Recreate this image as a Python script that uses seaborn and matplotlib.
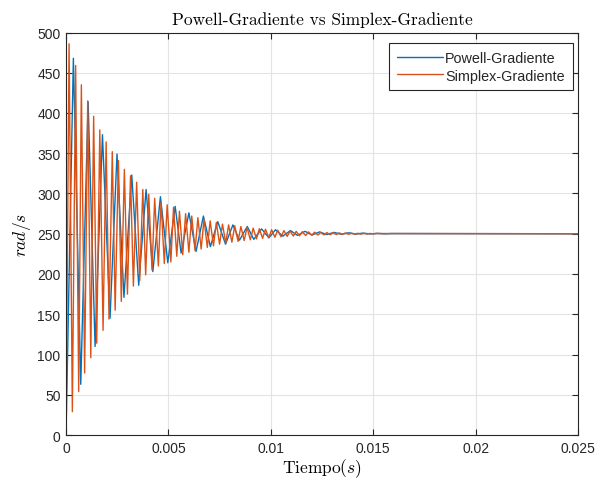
import numpy as np
import pandas as pd
import matplotlib
matplotlib.use("Agg")
import matplotlib.pyplot as plt
import seaborn as sns
from matplotlib.ticker import FixedLocator, FuncFormatter

# ---- data: extremes (time, value) ----
powell_t = [0, 0.00036, 0.00072, 0.00108, 0.00142, 0.00178, 0.00215, 0.00249, 0.00283,
            0.00321, 0.00355, 0.00391, 0.00424, 0.00461, 0.00497, 0.00533, 0.00562,
            0.00600, 0.00635, 0.00671, 0.00705, 0.00741, 0.00779, 0.00815, 0.00847,
            0.00885, 0.00917, 0.00955, 0.00991, 0.01023, 0.01059, 0.01096, 0.0113,
            0.01167, 0.01202, 0.01238, 0.01273, 0.01309, 0.01344, 0.0138, 0.01415,
            0.0145, 0.01486, 0.0152, 0.01556, 0.0159, 0.025]
powell_v = [0, 468, 63, 414, 110, 373, 145, 349, 171,
            323, 186, 305, 203, 296, 214, 284, 226,
            276, 228, 272, 234, 265, 237, 261, 242,
            259, 243, 256, 245, 255, 247, 254, 248,
            253, 248.5, 252.3, 249, 251.7, 249.4, 251.2, 249.6,
            250.8, 249.8, 250.5, 249.9, 250.3, 250]

simplex_t = [0, 0.00015, 0.00031, 0.00047, 0.00062, 0.00075, 0.00091, 0.00106, 0.00121,
             0.00135, 0.0015, 0.00165, 0.00181, 0.00196, 0.0021, 0.00226, 0.0024,
             0.00256, 0.0027, 0.00285, 0.003, 0.00315, 0.00329, 0.00345, 0.0036,
             0.00375, 0.00389, 0.00404, 0.0042, 0.00433, 0.00451, 0.00464, 0.0048,
             0.00494, 0.00512, 0.00525, 0.00541, 0.00554, 0.0057, 0.00584, 0.006,
             0.00614, 0.0063, 0.00644, 0.0066, 0.00674, 0.0069, 0.00704, 0.0072,
             0.00734, 0.0075, 0.00764, 0.0078, 0.00794, 0.0081, 0.00824, 0.0084,
             0.00854, 0.0087, 0.00884, 0.009, 0.00914, 0.0093, 0.00944, 0.0096,
             0.00974, 0.0099, 0.01004, 0.0102, 0.01034, 0.0105, 0.01064, 0.0108,
             0.01094, 0.0111, 0.01124, 0.0114, 0.01154, 0.0117, 0.01184, 0.012,
             0.01214, 0.0123, 0.01244, 0.0126, 0.01274, 0.0129, 0.01304, 0.0132,
             0.01334, 0.0135, 0.01364, 0.0138, 0.01394, 0.0141, 0.01424, 0.0144,
             0.01454, 0.0147, 0.01484, 0.015, 0.01514, 0.025]
simplex_v = [0, 486, 29, 459, 54, 435, 77, 415, 96,
             396, 114, 379, 130, 364, 144, 352, 155,
             341, 166, 330, 175, 322, 185, 314, 192,
             305, 199, 299, 205, 294, 210, 290, 213,
             286, 215, 283, 222, 278, 224, 275, 227,
             272, 229, 270, 231, 268, 233, 266, 235,
             264, 237, 262, 238.5, 261, 239.5, 260, 240.5,
             259, 241.5, 258, 242.5, 257, 243.5, 256.3, 244.3,
             255.6, 245, 255, 245.6, 254.4, 246.2, 253.9, 246.7,
             253.4, 247.1, 253, 247.5, 252.6, 247.8, 252.3, 248.1,
             252, 248.4, 251.7, 248.6, 251.5, 248.8, 251.3, 249,
             251.1, 249.2, 250.9, 249.4, 250.7, 249.5, 250.6, 249.6,
             250.5, 249.7, 250.4, 249.8, 250.3, 250]

series_names = ["Powell-Gradiente", "Simplex-Gradiente"]
x_ticks = [0, 0.005, 0.01, 0.015, 0.02, 0.025]
y_ticks = [0, 50, 100, 150, 200, 250, 300, 350, 400, 450, 500]

# ---- style ----
sns.set_style("ticks")
plt.rcParams["font.family"] = ["Liberation Sans", "DejaVu Sans"]
plt.rcParams["mathtext.fontset"] = "cm"

fig = plt.figure(figsize=(5.96, 4.81), dpi=100)
ax = fig.add_axes([66 / 596, 1 - 436 / 481, 512 / 596, 402.5 / 481])

colors = ["#0072BD", "#D95319"]
sns.lineplot(x=powell_t, y=powell_v, ax=ax, color=colors[0], lw=1.0,
             label=series_names[0], estimator=None, sort=False)
sns.lineplot(x=simplex_t, y=simplex_v, ax=ax, color=colors[1], lw=1.0,
             label=series_names[1], estimator=None, sort=False)

ax.set_xlim(0, 0.025)
ax.set_ylim(0, 500)
ax.xaxis.set_major_locator(FixedLocator(x_ticks))
ax.yaxis.set_major_locator(FixedLocator(y_ticks))
ax.xaxis.set_major_formatter(FuncFormatter(lambda v, p: "%g" % v))
ax.yaxis.set_major_formatter(FuncFormatter(lambda v, p: "%g" % v))

ax.grid(True, color="#e3e3e3", lw=0.8)
ax.set_axisbelow(True)
for s in ax.spines.values():
    s.set_color("#262626")
    s.set_linewidth(0.8)
    s.set_visible(True)
ax.tick_params(direction="in", length=4, width=0.8, colors="#262626",
               labelsize=10, top=True, right=True, pad=4)

ax.set_title("Powell-Gradiente vs Simplex-Gradiente", fontfamily="cmr10",
             fontsize=12.5, color="black", pad=6)
ax.set_xlabel(r"$\mathrm{Tiempo}(s)$", fontsize=12.5, color="black", labelpad=1)
ax.set_ylabel(r"$rad/s$", fontsize=12.5, color="black", labelpad=3)

leg = ax.legend(loc="upper right", bbox_to_anchor=(0.990, 0.974), borderaxespad=0,
                fancybox=False, framealpha=1, edgecolor="#262626", fontsize=10.4,
                handlelength=3.2, handletextpad=0.15, borderpad=0.55, labelspacing=0.25)
leg.get_frame().set_linewidth(0.8)

fig.savefig("out.png", dpi=100)
